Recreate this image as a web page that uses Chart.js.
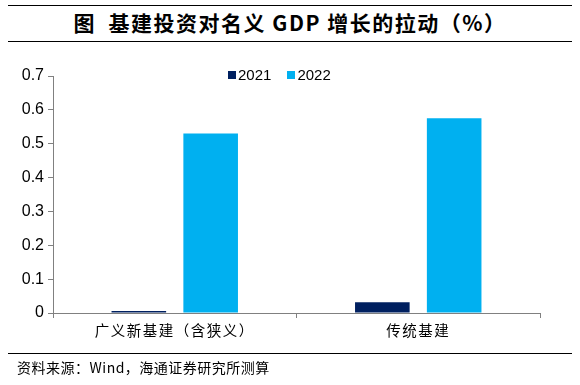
<!DOCTYPE html>
<html>
<head>
<meta charset="utf-8">
<script src="https://cdn.jsdelivr.net/npm/chart.js@4"></script>
<style>
    body { margin: 0; background: #fff; }
    #wrap { position: relative; width: 580px; height: 385px; overflow: hidden; }
    .rule { position: absolute; left: 8px; width: 564px; height: 0; border-top: 1.5px solid #000; }
    #title { position: absolute; left: 0; width: 580px; top: 8px; text-align: center;
        font: bold 21px "Noto Sans CJK SC", "Liberation Sans", sans-serif; color: #000; line-height: 28px;
        letter-spacing: 1.5px; }
    #source { position: absolute; left: 17px; top: 358px;
        font: 14px "Noto Sans CJK SC", "Liberation Sans", sans-serif; color: #000; line-height: 18px;
        letter-spacing: 0.5px; }
    #legend { position: absolute; top: 66px; left: 228px; font: 15px "Liberation Sans", Arial, sans-serif; line-height: 18px; }
    #legend span.box { display: inline-block; width: 8px; height: 8px; margin-right: 2px; vertical-align: 1px; }
    #legend span.item { margin-right: 16px; }
    canvas { position: absolute; left: 0; top: 0; }
</style>
</head>
<body>
<div id="wrap">
    <div class="rule" style="top:5px"></div>
    <div id="title">图&nbsp; 基建投资对名义 GDP 增长的拉动（%）</div>
    <div class="rule" style="top:41px"></div>
    <canvas id="chart" width="580" height="385"></canvas>
    <div id="legend"></div>
    <div class="rule" style="top:353px"></div>
    <div id="source">资料来源：Wind，海通证券研究所测算</div>
</div>
<script>
const categories = ['广义新基建（含狭义）', '传统基建'];
const seriesNames = ['2021', '2022'];
const values2021 = [0.006, 0.032];
const values2022 = [0.53, 0.575];
const colors = ['#002060', '#00B0F0'];

// legend drawn as html
const legend = document.getElementById('legend');
seriesNames.forEach((name, i) => {
    const item = document.createElement('span');
    item.className = 'item';
    item.innerHTML = `<span class="box" style="background:${colors[i]}"></span>${name}`;
    legend.appendChild(item);
});

// wider spacing for the chinese category labels
const spacedLabels = {
    id: 'spacedLabels',
    beforeDraw(chart) {
        const xs = chart.scales.x;
        if (xs._spaced) return;
        const orig = xs.drawLabels;
        xs.drawLabels = function (area) {
            chart.ctx.save();
            chart.ctx.letterSpacing = '1.5px';
            orig.call(this, area);
            chart.ctx.restore();
        };
        xs._spaced = true;
    },
};

const ctx = document.getElementById('chart').getContext('2d');
const chart = new Chart(ctx, {
    type: 'bar',
    data: {
        labels: categories,
        datasets: [
            {
                label: seriesNames[0],
                data: values2021,
                backgroundColor: colors[0],
                categoryPercentage: 0.59,
                barPercentage: 0.76,
            },
            {
                label: seriesNames[1],
                data: values2022,
                backgroundColor: colors[1],
                categoryPercentage: 0.59,
                barPercentage: 0.76,
            },
        ],
    },
    plugins: [spacedLabels],
    options: {
        responsive: false,
        animation: false,
        layout: {
            padding: { left: 0, right: 40, top: 76, bottom: 32 },
        },
        plugins: {
            legend: { display: false },
            tooltip: { enabled: false },
        },
        scales: {
            x: {
                grid: { drawOnChartArea: false, color: '#808080', tickLength: 5 },
                border: { color: '#808080', width: 1 },
                ticks: {
                    color: '#000',
                    padding: 4,
                    font: { family: '"Noto Sans CJK SC", sans-serif', size: 14.5 },
                },
                afterFit: (scale) => { scale.height = 40; },
            },
            y: {
                min: 0,
                max: 0.7,
                grid: { drawOnChartArea: false, color: '#808080', tickLength: 5 },
                border: { color: '#808080', width: 1 },
                ticks: {
                    stepSize: 0.1,
                    color: '#000',
                    padding: 4,
                    font: { family: '"Liberation Sans", Arial, sans-serif', size: 16 },
                },
                afterFit: (scale) => { scale.width = 53; },
            },
        },
    },
});
</script>
</body>
</html>
